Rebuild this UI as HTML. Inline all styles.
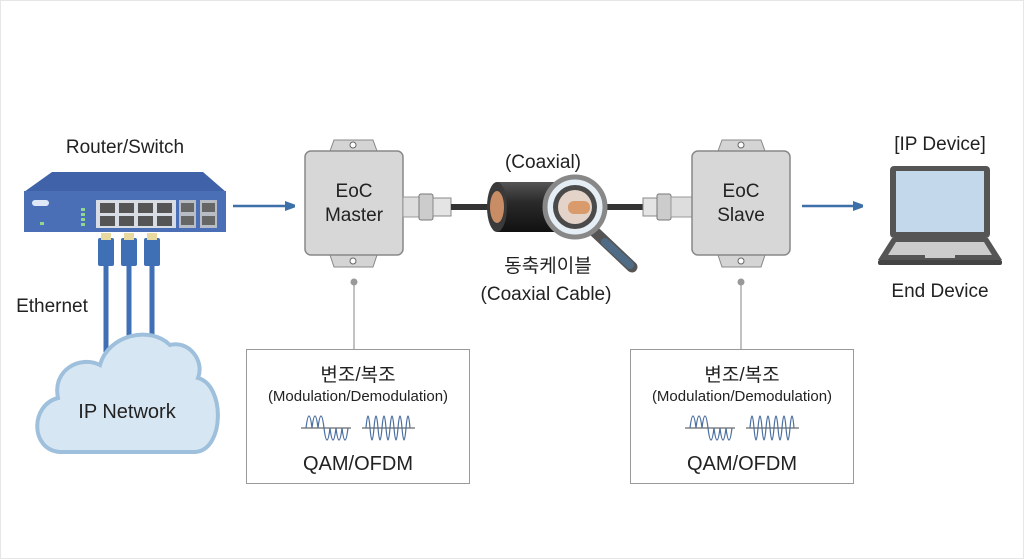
<!DOCTYPE html>
<html><head><meta charset="utf-8"><style>
html,body{margin:0;padding:0;background:#fff;}
svg{display:block;font-family:"Liberation Sans","Noto Sans CJK KR",sans-serif;}
</style></head><body>
<svg width="1024" height="559" viewBox="0 0 1024 559" xmlns="http://www.w3.org/2000/svg">
<rect x="0" y="0" width="1024" height="559" fill="#fff"/>
<rect x="0.5" y="0.5" width="1023" height="558" fill="none" stroke="#e6e6e6"/>
<defs>
<marker id="ah" markerWidth="10" markerHeight="10" refX="9" refY="5" orient="auto" markerUnits="userSpaceOnUse"><path d="M0,0 L14,5 L0,10z" fill="#3d6fa8"/></marker>
<linearGradient id="cyl" x1="0" y1="0" x2="0" y2="1"><stop offset="0" stop-color="#555"/><stop offset="0.4" stop-color="#2a2a2a"/><stop offset="1" stop-color="#111"/></linearGradient>
</defs>
<text x="125" y="153" font-size="19" text-anchor="middle" fill="#222">Router/Switch</text>
<!-- router -->
<path d="M52,172 L203,172 L226,192 L24,192 Z" fill="#3f62a8"/>
<rect x="24" y="191" width="202" height="41" fill="#4a6fb7"/>
<rect x="32" y="200" width="17" height="6" rx="3" fill="#dfe8f7"/>
<g fill="#8fd68f"><rect x="81" y="208" width="4" height="3"/><rect x="81" y="213" width="4" height="3"/><rect x="81" y="218" width="4" height="3"/><rect x="81" y="223" width="4" height="3"/><rect x="40" y="222" width="4" height="3"/></g>
<rect x="96" y="200" width="80" height="28" fill="#d8dce4"/>
<g fill="#555">
<rect x="100" y="203" width="15" height="10"/><rect x="119" y="203" width="15" height="10"/><rect x="138" y="203" width="15" height="10"/><rect x="157" y="203" width="15" height="10"/>
<rect x="100" y="216" width="15" height="10"/><rect x="119" y="216" width="15" height="10"/><rect x="138" y="216" width="15" height="10"/><rect x="157" y="216" width="15" height="10"/>
</g>
<rect x="179" y="200" width="17" height="28" fill="#b8bcc4"/><rect x="200" y="200" width="17" height="28" fill="#b8bcc4"/>
<g fill="#666"><rect x="181" y="203" width="13" height="9"/><rect x="181" y="216" width="13" height="9"/><rect x="202" y="203" width="13" height="9"/><rect x="202" y="216" width="13" height="9"/></g>
<!-- cables -->
<g stroke="#3f70b5" stroke-width="5" fill="none"><path d="M106,265 L106,352"/><path d="M129,265 L129,338"/><path d="M152,265 L152,335"/></g>
<g fill="#3f70b5">
<rect x="98" y="238" width="16" height="28" rx="2"/><rect x="121" y="238" width="16" height="28" rx="2"/><rect x="144" y="238" width="16" height="28" rx="2"/>
</g>
<g fill="#e8d9a0"><rect x="101" y="233" width="10" height="7"/><rect x="124" y="233" width="10" height="7"/><rect x="147" y="233" width="10" height="7"/></g>
<text x="52" y="312" font-size="19" text-anchor="middle" fill="#222">Ethernet</text>
<!-- cloud -->
<path d="M60,452 C30,450 30,405 58,398 C52,370 80,355 100,365 C108,335 150,325 170,345 C188,340 205,360 198,378 C225,385 225,450 195,452 Z" fill="#d7e6f3" stroke="#9fc0dc" stroke-width="4"/>
<text x="127" y="418" font-size="20" text-anchor="middle" fill="#222">IP Network</text>
<!-- arrow 1 -->
<line x1="233" y1="206" x2="294" y2="206" stroke="#3d6fa8" stroke-width="2.5" marker-end="url(#ah)"/>
<!-- master box -->
<g>
<path d="M330,151 L334,140 L373,140 L377,151 Z" fill="#d4d4d4" stroke="#888"/>
<path d="M330,255 L334,267 L373,267 L377,255 Z" fill="#d4d4d4" stroke="#888"/>
<circle cx="353" cy="145" r="3" fill="#fff" stroke="#666"/><circle cx="353" cy="261" r="3" fill="#fff" stroke="#666"/>
<rect x="305" y="151" width="98" height="104" rx="6" fill="#d7d7d7" stroke="#888" stroke-width="1.5"/>
<text x="354" y="197" font-size="19" text-anchor="middle" fill="#222">EoC</text>
<text x="354" y="221" font-size="19" text-anchor="middle" fill="#222">Master</text>
</g>
<circle cx="354" cy="282" r="3.5" fill="#999"/><line x1="354" y1="282" x2="354" y2="349" stroke="#999" stroke-width="1.2"/>
<!-- left connector -->
<rect x="403" y="197" width="18" height="20" fill="#ddd" stroke="#999"/>
<rect x="419" y="194" width="14" height="26" rx="2" fill="#ccc" stroke="#777"/>
<rect x="433" y="198" width="18" height="18" fill="#e4e4e4" stroke="#888"/>
<line x1="451" y1="207" x2="495" y2="207" stroke="#333" stroke-width="6"/>
<!-- cylinder -->
<rect x="497" y="182" width="62" height="50" fill="url(#cyl)"/>
<ellipse cx="559" cy="207" rx="10" ry="25" fill="#222"/>
<ellipse cx="497" cy="207" rx="10" ry="25" fill="#3a3a3a"/>
<ellipse cx="497" cy="207" rx="7" ry="16" fill="#c98d66"/>
<line x1="598" y1="207" x2="655" y2="207" stroke="#333" stroke-width="6"/>
<!-- magnifier -->
<line x1="595" y1="232" x2="632" y2="267" stroke="#555" stroke-width="11" stroke-linecap="round"/>
<line x1="605" y1="242" x2="630" y2="265" stroke="#4f6b85" stroke-width="8" stroke-linecap="round"/>
<circle cx="575" cy="207" r="30" fill="#e6eef5" stroke="#888" stroke-width="5"/>
<circle cx="575" cy="207" r="22" fill="#4a4a4a"/>
<circle cx="575" cy="207" r="17" fill="#e3d3c8"/>
<rect x="568" y="201" width="22" height="13" rx="6" fill="#d99b6c"/>
<text x="543" y="168" font-size="19" text-anchor="middle" fill="#222">(Coaxial)</text>
<text x="548" y="272" font-size="19" text-anchor="middle" fill="#222">동축케이블</text>
<text x="546" y="300" font-size="19" text-anchor="middle" fill="#222">(Coaxial Cable)</text>
<!-- right connector -->
<rect x="643" y="198" width="14" height="18" fill="#e4e4e4" stroke="#888"/>
<rect x="657" y="194" width="14" height="26" rx="2" fill="#ccc" stroke="#777"/>
<rect x="671" y="197" width="21" height="20" fill="#ddd" stroke="#999"/>
<!-- slave box -->
<g>
<path d="M718,151 L722,140 L761,140 L765,151 Z" fill="#d4d4d4" stroke="#888"/>
<path d="M718,255 L722,267 L761,267 L765,255 Z" fill="#d4d4d4" stroke="#888"/>
<circle cx="741" cy="145" r="3" fill="#fff" stroke="#666"/><circle cx="741" cy="261" r="3" fill="#fff" stroke="#666"/>
<rect x="692" y="151" width="98" height="104" rx="6" fill="#d7d7d7" stroke="#888" stroke-width="1.5"/>
<text x="741" y="197" font-size="19" text-anchor="middle" fill="#222">EoC</text>
<text x="741" y="221" font-size="19" text-anchor="middle" fill="#222">Slave</text>
</g>
<circle cx="741" cy="282" r="3.5" fill="#999"/><line x1="741" y1="282" x2="741" y2="349" stroke="#999" stroke-width="1.2"/>
<line x1="802" y1="206" x2="862" y2="206" stroke="#3d6fa8" stroke-width="2.5" marker-end="url(#ah)"/>
<!-- laptop -->
<text x="940" y="150" font-size="19" text-anchor="middle" fill="#222">[IP Device]</text>
<rect x="890" y="166" width="100" height="72" rx="4" fill="#555"/>
<rect x="896" y="171" width="88" height="61" fill="#c4d8ec"/>
<path d="M892,238 L988,238 L1002,260 L878,260 Z" fill="#555"/>
<path d="M896,242 L984,242 L992,255 L888,255 Z" fill="#ccc"/>
<rect x="925" y="253" width="30" height="5" fill="#ccc"/>
<rect x="878" y="260" width="124" height="5" rx="2" fill="#444"/>
<text x="940" y="297" font-size="19" text-anchor="middle" fill="#222">End Device</text>
<!-- mod boxes -->
<g id="mb">
<rect x="246.5" y="349.5" width="223" height="134" fill="#fff" stroke="#999"/>
<text x="358" y="381" font-size="19" text-anchor="middle" fill="#222">변조/복조</text>
<text x="358" y="401" font-size="15" text-anchor="middle" fill="#222">(Modulation/Demodulation)</text>
<line x1="301" y1="428" x2="351" y2="428" stroke="#444"/>
<path d="M306,428 Q309,404 312,428 Q315,404 318,428 Q321,404 324,428 Q327,452 330,428 Q333,452 336,428 Q339,452 342,428 Q345,452 348,428" fill="none" stroke="#4a6fa0" stroke-width="1.2"/>
<line x1="362" y1="428" x2="415" y2="428" stroke="#444"/>
<path d="M366,428 Q368,404 370,428 Q372,452 374,428 Q376,404 378,428 Q380,452 382,428 Q384,404 386,428 Q388,452 390,428 Q392,404 394,428 Q396,452 398,428 Q400,404 402,428 Q404,452 406,428 Q408,404 410,428" fill="none" stroke="#4a6fa0" stroke-width="1.2"/>
<text x="358" y="470" font-size="20" text-anchor="middle" fill="#222">QAM/OFDM</text>
</g>
<use href="#mb" x="384"/>
</svg>
</body></html>
